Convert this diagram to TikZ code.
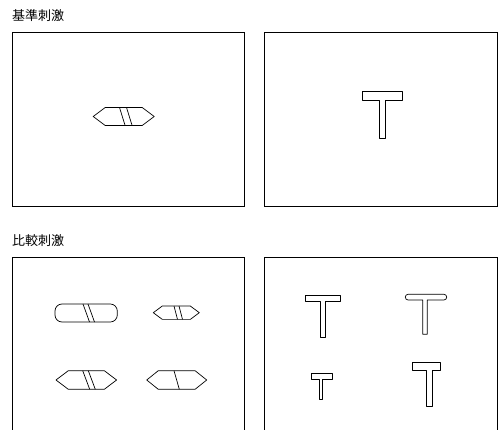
\documentclass[tikz,border=0pt]{standalone}
\usepackage{fontspec}
\newfontfamily\jpfont{Noto Sans CJK JP}
\usetikzlibrary{calc}
\tikzset{
  panel/.style={draw, line width=0.8pt},
  stim/.style={line width=0.7pt, line join=round},
  title/.style={anchor=west, inner sep=0pt, font=\jpfont\fontsize{13}{15}\selectfont},
}
\newcommand{\hexstim}[4]{% hexagon stimulus centered at (#1): half width #2, half height #3, tip inset #4
  \draw[stim] ($(#1)+(-#2,0)$) -- ($(#1)+(-#2+#4,-#3)$) -- ($(#1)+(#2-#4,-#3)$)
    -- ($(#1)+(#2,0)$) -- ($(#1)+(#2-#4,#3)$) -- ($(#1)+(-#2+#4,#3)$) -- cycle;
}
\newcommand{\stripe}[4]{% slanted stripe at (#1): top offset #2, half height #3, slant #4
  \draw[stim] ($(#1)+(#2,-#3)$) -- ($(#1)+(#2+#4,#3)$);
}
\newcommand{\tstim}[7][0]{% T stimulus: bar top-left (#2), bar width #3, bar height #4,
  % stem left offset #5, stem width #6, stem length #7; #1 rounds the bar ends
  \draw[stim] ($(#2)+(#5,#4)$) [rounded corners=#1] -- ++(-#5,0) -- ++(0,-#4)
    -- ++(#3,0) -- ++(0,#4) [sharp corners] -- ++(#5+#6-#3,0) -- ++(0,#7)
    -- ++(-#6,0) -- cycle;
}

\begin{document}
\begin{tikzpicture}[x=1pt,y=-1pt]
  \useasboundingbox (0,0) rectangle (498,430);
  \clip (0,0) rectangle (498,430);
  % standard stimuli
  \node[title] (stdlabel) at (12,16) {基準刺激};
  \draw[panel] (12,32) rectangle (244,206);
  \draw[panel] (264,32) rectangle (497.5,206);
  \hexstim{123.7,116.5}{30.5}{9}{12}
  \foreach \s in {-4.2,2.8} \stripe{123.7,116.5}{\s}{9}{5.6};
  \tstim{362.7,91.7}{40}{8.6}{16.6}{5.7}{38}
  % comparison stimuli
  \node[title] (cmplabel) at (12,241) {比較刺激};
  \draw[panel] (12,257) rectangle (244,445);
  \draw[panel] (264,257) rectangle (497.5,445);
  \draw[stim, rounded corners=7] (55,304) rectangle (117.3,322);
  \foreach \s in {-3,2} \stripe{86,313}{\s}{9}{6.5};
  \hexstim{176.3,312.7}{23}{6.7}{9}
  \foreach \s in {-2.3,2.7} \stripe{176.3,312.7}{\s}{6.7}{3.5};
  \hexstim{86.3,380}{30.3}{9.3}{12.3}
  \foreach \s in {-3.6,2} \stripe{86.3,380}{\s}{9.3}{7};
  \hexstim{176.7,380}{30}{9.3}{11.6}
  \stripe{176.7,380}{-2.7}{9.3}{5.3};
  \tstim{305,295}{35.7}{6.7}{15}{5.3}{36}
  \tstim[2.8]{405.3,294.3}{41.4}{5.7}{17.4}{4.6}{34.3}
  \tstim{311,373.3}{21}{5.7}{8}{3.7}{20.3}
  \tstim{412,362.3}{28}{8.4}{14.7}{5.6}{36}
\end{tikzpicture}
\end{document}
